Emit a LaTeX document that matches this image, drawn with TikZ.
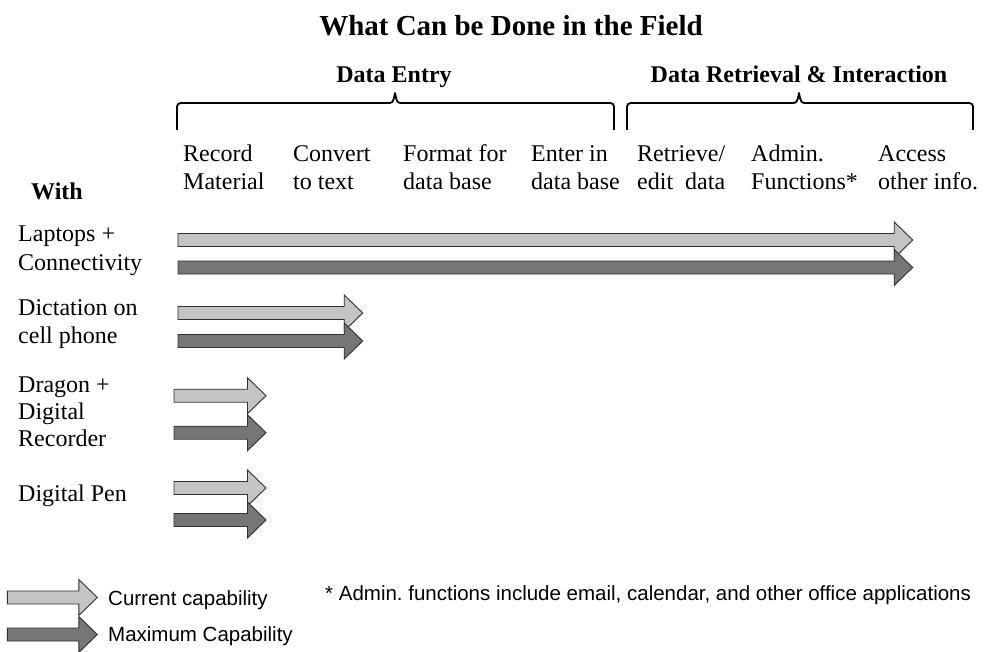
\documentclass[tikz,border=0pt]{standalone}
\usepackage{fontspec}
\setmainfont{Liberation Serif}
\newfontfamily\arialfont{Liberation Sans}
\frenchspacing
\definecolor{lightfill}{HTML}{C4C4C4}
\definecolor{darkfill}{HTML}{767676}
\definecolor{edgecol}{HTML}{303030}
\tikzset{
  lbl/.style={anchor=base west, inner sep=0pt, font=\fontsize{24}{28}\selectfont},
  hdr/.style={anchor=base, inner sep=0pt, font=\fontsize{24}{28}\selectfont\bfseries},
  sanslbl/.style={anchor=base west, inner sep=0pt, font=\fontsize{20.5}{24}\selectfont\arialfont},
  bracepath/.style={draw=black, line width=1.8pt, line join=round},
  cur/.style={fill=lightfill, draw=edgecol, line width=0.9pt, line join=miter},
  maxi/.style={fill=darkfill, draw=edgecol, line width=0.9pt, line join=miter}
}
% #1 style, #2 start x, #3 tip x, #4 centre y
\newcommand{\blockarrow}[4]{%
  \path[#1] (#2,#4-6.5) -- (#3-18.5,#4-6.5) -- (#3-18.5,#4-18) -- (#3,#4)
    -- (#3-18.5,#4+18) -- (#3-18.5,#4+6.5) -- (#2,#4+6.5) -- cycle;}
\begin{document}
\begin{tikzpicture}[x=1pt,y=-1pt]
\useasboundingbox (0,0) rectangle (984,652);
\fill[white] (0,0) rectangle (984,652);

% title
\node[anchor=base, inner sep=0pt, font=\fontsize{29}{33}\selectfont\bfseries] (title) at (511,36) {What Can be Done in the Field};

% group headers
\node[hdr] (entry) at (394,83) {Data Entry};
\node[hdr] (retr) at (799,83) {Data Retrieval \& Interaction};

% braces
\path[bracepath] (177,130) -- (177,111) .. controls (177,103) .. (185,103) -- (387,103)
  .. controls (393,103) .. (395,93) .. controls (397,103) .. (403,103) -- (606,103)
  .. controls (614,103) .. (614,111) -- (614,130);
\path[bracepath] (627,130) -- (627,111) .. controls (627,103) .. (635,103) -- (791,103)
  .. controls (797,103) .. (799,93) .. controls (801,103) .. (807,103) -- (965,103)
  .. controls (973,103) .. (973,111) -- (973,130);

% column labels
\node[lbl] (c1a) at (183,162) {Record};
\node[lbl] (c1b) at (183,190) {Material};
\node[lbl] (c2a) at (293,162) {Convert};
\node[lbl] (c2b) at (293,190) {to text};
\node[lbl] (c3a) at (403,162) {Format for};
\node[lbl] (c3b) at (403,190) {data base};
\node[lbl] (c4a) at (531,162) {Enter in};
\node[lbl] (c4b) at (531,190) {data base};
\node[lbl] (c5a) at (637,162) {Retrieve/};
\node[lbl] (c5b) at (637,190) {edit\ \ data};
\node[lbl] (c6a) at (751,162) {Admin.};
\node[lbl] (c6b) at (751,190) {Functions*};
\node[lbl] (c7a) at (878,162) {Access};
\node[lbl] (c7b) at (878,190) {other info.};

% row labels
\node[lbl, font=\fontsize{24}{28}\selectfont\bfseries] (with) at (31,200) {With};
\node[lbl] (r1a) at (18,241) {Laptops +};
\node[lbl] (r1b) at (18,270) {Connectivity};
\node[lbl] (r2a) at (18,315) {Dictation on};
\node[lbl] (r2b) at (18,343) {cell phone};
\node[lbl] (r3a) at (18,392) {Dragon +};
\node[lbl] (r3b) at (18,419) {Digital};
\node[lbl] (r3c) at (18,446) {Recorder};
\node[lbl] (r4a) at (18,501) {Digital Pen};

% arrows
\blockarrow{cur}{178}{912.7}{240}
\blockarrow{maxi}{178}{912.7}{267.5}
\blockarrow{cur}{178}{362.7}{313}
\blockarrow{maxi}{178}{362.7}{341}
\blockarrow{cur}{174}{266}{395.7}
\blockarrow{maxi}{174}{266}{432.7}
\blockarrow{cur}{174}{266}{488}
\blockarrow{maxi}{174}{266}{520}

% legend
\blockarrow{cur}{7.3}{97.3}{597.5}
\blockarrow{maxi}{7.3}{97.3}{634.5}
\node[sanslbl] (leg1) at (108,605) {Current capability};
\node[sanslbl] (leg2) at (108,641) {Maximum Capability};
\node[sanslbl] (note) at (325,600) {* Admin. functions include email, calendar, and other office applications};
\end{tikzpicture}
\end{document}
